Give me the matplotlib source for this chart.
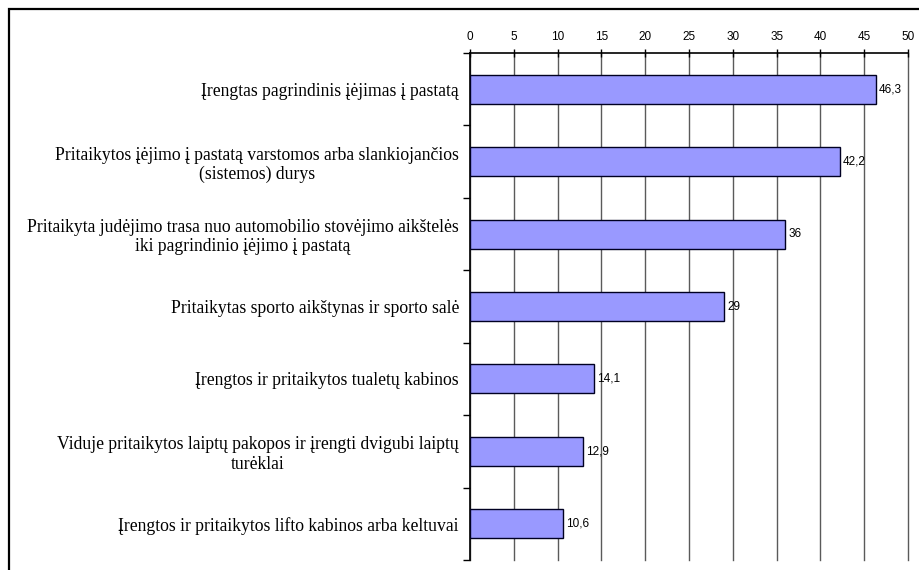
import matplotlib
matplotlib.use("Agg")
import matplotlib.pyplot as plt
from matplotlib.patches import Rectangle
import numpy as np

categories = [
    "Įrengtas pagrindinis įėjimas į pastatą",
    "Pritaikytos įėjimo į pastatą varstomos arba slankiojančios\n(sistemos) durys",
    "Pritaikyta judėjimo trasa nuo automobilio stovėjimo aikštelės\niki pagrindinio įėjimo į pastatą",
    "Pritaikytas sporto aikštynas ir sporto salė",
    "Įrengtos ir pritaikytos tualetų kabinos",
    "Viduje pritaikytos laiptų pakopos ir įrengti dvigubi laiptų\nturėklai",
    "Įrengtos ir pritaikytos lifto kabinos arba keltuvai",
]
values = [46.3, 42.2, 36, 29, 14.1, 12.9, 10.6]
value_labels = ["46,3", "42,2", "36", "29", "14,1", "12,9", "10,6"]
xticks = [0, 5, 10, 15, 20, 25, 30, 35, 40, 45, 50]

W, H = 919, 570
fig = plt.figure(figsize=(W / 100, H / 100), dpi=100)
ax = fig.add_axes([470 / W, 1 - 560 / H, (908 - 470) / W, (560 - 53) / H])

n = len(categories)
y = np.arange(n)
ax.barh(y, values, height=0.4, color="#9999FF", edgecolor="#000022", linewidth=1.0, zorder=3)
ax.set_ylim(n - 0.5, -0.5)
ax.set_xlim(0, 50)

ax.xaxis.tick_top()
ax.set_xticks(xticks)
ax.set_xticklabels([str(t) for t in xticks], family="Liberation Sans", fontsize=8.5)
ax.tick_params(axis="x", direction="inout", length=6, width=1, pad=4, color="black")
ax.grid(axis="x", color="#5a5a5a", linewidth=1.0, zorder=0)
for gl in ax.get_xgridlines():
    gl.set_clip_on(False)

ax.set_yticks(y)
ax.set_yticklabels(categories, family="Liberation Serif", fontsize=12.7)
for t in ax.get_yticklabels():
    t.set_multialignment("center")
    t.set_linespacing(1.17)
ax.tick_params(axis="y", which="major", length=0, pad=8)
ax.set_yticks(np.arange(n + 1) - 0.5, minor=True)
ax.tick_params(axis="y", which="minor", length=5, width=1, direction="out", color="black")

for s in ["right", "bottom"]:
    ax.spines[s].set_visible(False)
ax.spines["left"].set_linewidth(1.2)
ax.spines["top"].set_linewidth(1.2)

for yi, v, lab in zip(y, values, value_labels):
    ax.text(v + 0.35, yi, lab, va="center", ha="left", family="Liberation Sans", fontsize=8.5, zorder=4)

fig.patches.append(Rectangle((9 / W, -0.1), 1.2, (1 - 9 / H) + 0.1, transform=fig.transFigure,
                             fill=False, edgecolor="black", linewidth=1.6))

fig.savefig("out.png", dpi=100)
